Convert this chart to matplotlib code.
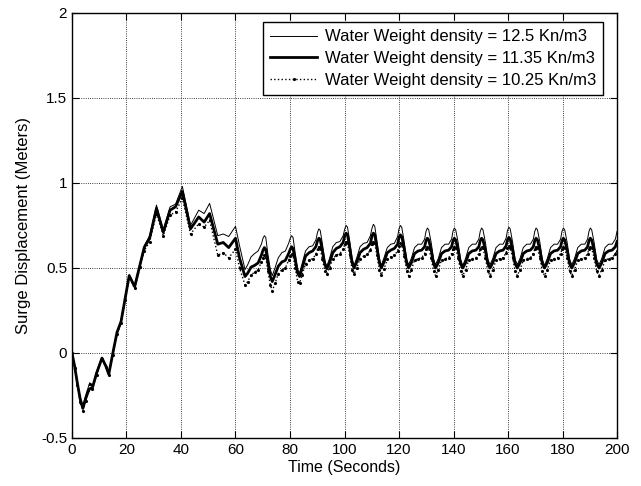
import numpy as np
import matplotlib.pyplot as plt

# surge displacement for three water weight densities
labels = ["Water Weight density = 12.5 Kn/m3",
          "Water Weight density = 11.35 Kn/m3",
          "Water Weight density = 10.25 Kn/m3"]

# start-up part (0 - 61.5 s)
t_start = [0, 1, 2, 3, 4, 5, 6, 6.5, 7.5, 9, 11, 12.5, 13.5, 15, 16.5, 18, 19.5,
           21, 23, 25, 26.5, 28.5, 31, 33.5, 36, 38, 40.5, 43.5, 46.5, 48.5,
           50.5, 53.5, 55.5, 57.5, 60, 61.5]
thin_start = [0, -0.07, -0.17, -0.26, -0.31, -0.25, -0.2, -0.175, -0.2, -0.11,
              -0.025, -0.075, -0.12, 0.0, 0.12, 0.19, 0.33, 0.46, 0.395, 0.53,
              0.63, 0.69, 0.87, 0.725, 0.86, 0.875, 0.98, 0.75, 0.84, 0.82,
              0.88, 0.69, 0.70, 0.685, 0.745, 0.63]
thick_start = [0, -0.08, -0.18, -0.27, -0.325, -0.27, -0.225, -0.21, -0.205,
               -0.12, -0.03, -0.08, -0.125, 0.0, 0.12, 0.185, 0.32, 0.455, 0.39,
               0.52, 0.62, 0.675, 0.85, 0.71, 0.84, 0.86, 0.95, 0.73, 0.80,
               0.77, 0.82, 0.64, 0.65, 0.62, 0.675, 0.557]
dot_start = [0, -0.09, -0.19, -0.29, -0.34, -0.28, -0.22, -0.18, -0.21, -0.13,
             -0.035, -0.085, -0.13, -0.01, 0.11, 0.175, 0.31, 0.445, 0.38,
             0.505, 0.60, 0.655, 0.82, 0.69, 0.81, 0.83, 0.91, 0.70, 0.76,
             0.74, 0.78, 0.575, 0.59, 0.56, 0.61, 0.50]

# oscillating part, one row per cycle (dip ... peak ... falling edge)
t_osc = [
    [63.5, 64.5, 65.7, 67.0, 68.3, 69.5, 70.1, 70.6, 71.1, 71.9, 72.8],
    [73.5, 74.5, 75.7, 77.0, 78.3, 79.5, 80.1, 80.6, 81.1, 81.9, 82.8],
    [83.5, 84.5, 85.7, 87.0, 88.3, 89.5, 90.1, 90.6, 91.1, 91.9, 92.8],
    [93.5, 94.5, 95.7, 97.0, 98.3, 99.5, 100.1, 100.6, 101.1, 101.9, 102.8],
    [103.5, 104.5, 105.7, 107.0, 108.3, 109.5, 110.1, 110.6, 111.1, 111.9, 112.8],
    [113.5, 114.5, 115.7, 117.0, 118.3, 119.5, 120.0, 120.5, 121.0, 121.9, 122.8],
    [123.5, 124.5, 125.7, 127.0, 128.3, 129.4, 129.9, 130.4, 130.9, 131.8, 132.7],
    [133.4, 134.4, 135.6, 136.9, 138.2, 139.3, 139.8, 140.3, 140.8, 141.7, 142.6],
    [143.4, 144.4, 145.6, 146.9, 148.2, 149.3, 149.8, 150.3, 150.8, 151.7, 152.6],
    [153.4, 154.4, 155.6, 156.9, 158.2, 159.3, 159.8, 160.3, 160.8, 161.7, 162.6],
    [163.4, 164.4, 165.6, 166.9, 168.2, 169.3, 169.8, 170.3, 170.8, 171.7, 172.6],
    [173.4, 174.4, 175.6, 176.9, 178.2, 179.3, 179.8, 180.3, 180.8, 181.7, 182.6],
    [183.4, 184.4, 185.6, 186.9, 188.2, 189.2, 189.7, 190.2, 190.7, 191.6, 192.5],
    [193.4, 194.4, 195.6, 196.9, 198.2, 199.4, 200.0],
]
thin_osc = [
    [0.49, 0.52, 0.565, 0.585, 0.60, 0.64, 0.675, 0.69, 0.68, 0.58, 0.49],
    [0.455, 0.50, 0.56, 0.59, 0.60, 0.645, 0.675, 0.69, 0.68, 0.59, 0.49],
    [0.47, 0.53, 0.60, 0.625, 0.63, 0.665, 0.71, 0.73, 0.72, 0.64, 0.54],
    [0.51, 0.555, 0.625, 0.65, 0.655, 0.69, 0.73, 0.75, 0.74, 0.66, 0.555],
    [0.515, 0.56, 0.625, 0.645, 0.65, 0.69, 0.735, 0.757, 0.745, 0.66, 0.555],
    [0.515, 0.56, 0.62, 0.64, 0.645, 0.685, 0.73, 0.75, 0.74, 0.655, 0.55],
    [0.52, 0.555, 0.62, 0.64, 0.64, 0.67, 0.715, 0.735, 0.725, 0.65, 0.55],
    [0.52, 0.555, 0.62, 0.64, 0.64, 0.67, 0.715, 0.735, 0.725, 0.65, 0.55],
    [0.515, 0.555, 0.62, 0.64, 0.64, 0.67, 0.715, 0.735, 0.725, 0.65, 0.55],
    [0.52, 0.555, 0.62, 0.64, 0.64, 0.675, 0.72, 0.74, 0.73, 0.65, 0.55],
    [0.52, 0.555, 0.62, 0.64, 0.64, 0.67, 0.715, 0.735, 0.725, 0.65, 0.55],
    [0.515, 0.555, 0.62, 0.64, 0.64, 0.67, 0.715, 0.735, 0.725, 0.65, 0.55],
    [0.52, 0.555, 0.62, 0.64, 0.64, 0.67, 0.715, 0.735, 0.725, 0.65, 0.55],
    [0.52, 0.555, 0.62, 0.64, 0.64, 0.67, 0.715],
]
thick_osc = [
    [0.45, 0.47, 0.505, 0.515, 0.53, 0.575, 0.605, 0.62, 0.61, 0.53, 0.45],
    [0.42, 0.46, 0.51, 0.535, 0.545, 0.585, 0.61, 0.625, 0.615, 0.55, 0.47],
    [0.45, 0.50, 0.57, 0.59, 0.60, 0.625, 0.66, 0.675, 0.665, 0.60, 0.52],
    [0.495, 0.53, 0.59, 0.615, 0.625, 0.65, 0.69, 0.705, 0.695, 0.62, 0.53],
    [0.50, 0.535, 0.59, 0.61, 0.62, 0.645, 0.69, 0.705, 0.695, 0.62, 0.53],
    [0.50, 0.535, 0.59, 0.605, 0.615, 0.64, 0.68, 0.695, 0.685, 0.615, 0.53],
    [0.50, 0.53, 0.585, 0.60, 0.605, 0.625, 0.66, 0.675, 0.665, 0.605, 0.525],
    [0.50, 0.53, 0.585, 0.60, 0.605, 0.625, 0.66, 0.675, 0.665, 0.605, 0.525],
    [0.50, 0.53, 0.585, 0.60, 0.605, 0.625, 0.66, 0.675, 0.665, 0.605, 0.525],
    [0.50, 0.53, 0.585, 0.60, 0.605, 0.63, 0.665, 0.68, 0.67, 0.605, 0.525],
    [0.50, 0.53, 0.585, 0.60, 0.605, 0.625, 0.66, 0.675, 0.665, 0.605, 0.525],
    [0.50, 0.53, 0.585, 0.60, 0.605, 0.625, 0.66, 0.675, 0.665, 0.605, 0.525],
    [0.50, 0.53, 0.585, 0.60, 0.605, 0.625, 0.66, 0.675, 0.665, 0.605, 0.525],
    [0.50, 0.53, 0.585, 0.60, 0.605, 0.625, 0.655],
]
dot_osc = [
    [0.40, 0.42, 0.46, 0.475, 0.49, 0.535, 0.56, 0.575, 0.565, 0.48, 0.40],
    [0.365, 0.41, 0.465, 0.49, 0.50, 0.545, 0.57, 0.585, 0.575, 0.50, 0.42],
    [0.41, 0.46, 0.525, 0.545, 0.555, 0.58, 0.61, 0.625, 0.615, 0.55, 0.48],
    [0.465, 0.50, 0.555, 0.575, 0.585, 0.61, 0.64, 0.655, 0.645, 0.575, 0.49],
    [0.465, 0.50, 0.555, 0.57, 0.58, 0.605, 0.64, 0.655, 0.645, 0.575, 0.49],
    [0.46, 0.495, 0.55, 0.565, 0.575, 0.60, 0.63, 0.645, 0.635, 0.57, 0.485],
    [0.455, 0.49, 0.545, 0.555, 0.56, 0.585, 0.61, 0.625, 0.615, 0.56, 0.48],
    [0.455, 0.49, 0.545, 0.555, 0.56, 0.585, 0.61, 0.625, 0.615, 0.56, 0.48],
    [0.455, 0.49, 0.545, 0.555, 0.56, 0.585, 0.61, 0.625, 0.615, 0.56, 0.48],
    [0.455, 0.49, 0.545, 0.555, 0.56, 0.59, 0.615, 0.63, 0.62, 0.56, 0.48],
    [0.455, 0.49, 0.545, 0.555, 0.56, 0.585, 0.61, 0.625, 0.615, 0.56, 0.48],
    [0.455, 0.49, 0.545, 0.555, 0.56, 0.585, 0.61, 0.625, 0.615, 0.56, 0.48],
    [0.455, 0.49, 0.545, 0.555, 0.56, 0.585, 0.61, 0.625, 0.615, 0.56, 0.48],
    [0.455, 0.49, 0.545, 0.555, 0.56, 0.585, 0.60],
]


def join(first, rows):
    out = list(first)
    for r in rows:
        out += r
    return np.array(out)


t = join(t_start, t_osc)
thin = join(thin_start, thin_osc)
thick = join(thick_start, thick_osc)
dotted = join(dot_start, dot_osc)

plt.rcParams['font.family'] = ['Liberation Sans', 'DejaVu Sans']
plt.rcParams['font.size'] = 11

fig = plt.figure(figsize=(6.41, 4.86), dpi=100)
ax = fig.add_axes([0.1123, 0.0988, 0.8503, 0.8745])

ax.plot(t, thin, color='k', linewidth=0.7, label=labels[0])
ax.plot(t, thick, color='k', linewidth=2.0, label=labels[1])
ax.plot(t, dotted, color='k', linewidth=1.0, linestyle=':', marker='.',
        markersize=2.5, label=labels[2])

ax.set_xlim(0, 200)
ax.set_ylim(-0.5, 2)
ax.set_xticks(np.arange(0, 201, 20))
ax.set_yticks([-0.5, 0, 0.5, 1, 1.5, 2])
ax.set_yticklabels(['-0.5', '0', '0.5', '1', '1.5', '2'])
ax.tick_params(direction='in', top=True, right=True, length=5, width=0.8,
               labelsize=11)
ax.grid(True, color='k', linestyle=':', linewidth=0.6)
for s in ax.spines.values():
    s.set_linewidth(1.0)

ax.set_xlabel('Time (Seconds)', fontsize=11.5, labelpad=2)
ax.set_ylabel('Surge Displacement (Meters)', fontsize=12, labelpad=7)

leg = ax.legend(loc='upper right', bbox_to_anchor=(0.975, 0.979),
                borderaxespad=0, numpoints=1, handlelength=2.8,
                handletextpad=0.45, labelspacing=0.4, borderpad=0.45,
                fancybox=False, framealpha=1, edgecolor='k', fontsize=12)
leg.get_frame().set_linewidth(1.0)

fig.savefig('out.png', dpi=100)
